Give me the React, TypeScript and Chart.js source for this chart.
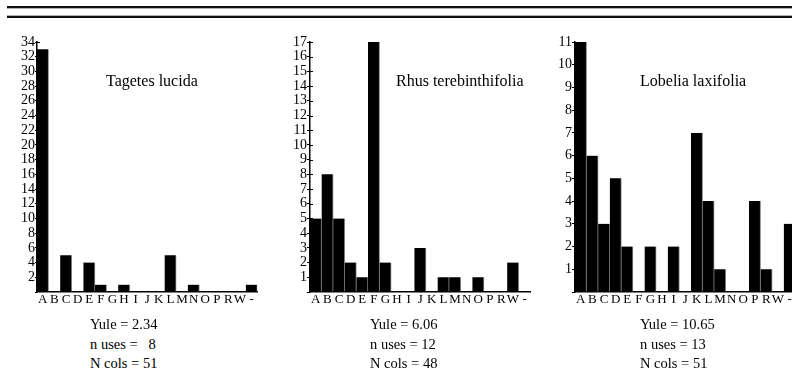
import React, { useEffect, useRef } from "react";
import { Chart, registerables } from "chart.js";

Chart.register(...registerables);

// ---- data ----
const categories = ["A", "B", "C", "D", "E", "F", "G", "H", "I", "J", "K", "L", "M", "N", "O", "P", "R", "W", "-"];
const tagetesValues = [33, 0, 5, 0, 4, 1, 0, 1, 0, 0, 0, 5, 0, 1, 0, 0, 0, 0, 1];
const rhusValues = [5, 8, 5, 2, 1, 17, 2, 0, 0, 3, 0, 1, 1, 0, 1, 0, 0, 2, 0];
const lobeliaValues = [11, 6, 3, 5, 2, 0, 2, 0, 2, 0, 7, 4, 1, 0, 0, 4, 1, 0, 3];
const speciesNames = ["Tagetes lucida", "Rhus terebinthifolia", "Lobelia laxifolia"];
const yuleLabels = ["Yule = 2.34", "Yule = 6.06", "Yule = 10.65"];
const usesLabels = ["n uses =   8", "n uses = 12", "n uses = 13"];
const colsLabels = ["N cols = 51", "N cols = 48", "N cols = 51"];
const yMaxValues = [34, 17, 11];
const yStepValues = [2, 1, 1];

const SERIF = '"Liberation Serif", "Times New Roman", Times, serif';

const CANVAS_H = 320;
const TOP_PAD = 42;
const X_AXIS_H = 28;
const Y_AXIS_W = 36;
const PLOT_W = 220.4;
const RIGHT_PAD = 12;
const CANVAS_W = Math.ceil(Y_AXIS_W + PLOT_W + RIGHT_PAD);

const innerTicksPlugin = {
  id: "innerTicks",
  afterDraw(chart: any, _args: any, opts: any) {
    const len = opts && opts.len ? opts.len : 0;
    if (!len) return;
    const ys = chart.scales.y;
    const ctx = chart.ctx;
    const x0 = chart.chartArea.left;
    ctx.save();
    ctx.strokeStyle = "#000";
    ctx.lineWidth = 1;
    ys.ticks.forEach((t: any, i: number) => {
      if (t.value === 0) return;
      if (opts.onlyMax && t.value !== ys.max) return;
      const py = Math.round(ys.getPixelForTick(i)) + 0.5;
      ctx.beginPath();
      ctx.moveTo(x0, py);
      ctx.lineTo(x0 + len, py);
      ctx.stroke();
    });
    ctx.restore();
  },
};

type PanelProps = {
  values: number[];
  max: number;
  step: number;
  left: number;
  tickOut: number;
  tickIn: number;
  onlyMax: boolean;
};

function Panel({ values, max, step, left, tickOut, tickIn, onlyMax }: PanelProps) {
  const ref = useRef<HTMLCanvasElement>(null);
  useEffect(() => {
    const chart = new Chart(ref.current as HTMLCanvasElement, {
      type: "bar",
      data: {
        labels: categories,
        datasets: [
          {
            data: values,
            backgroundColor: "#000",
            borderColor: "#8c8c8c",
            borderWidth: { left: 0, right: 1, top: 0, bottom: 0 },
            borderSkipped: false,
            barPercentage: 1,
            categoryPercentage: 1,
          } as any,
        ],
      },
      options: {
        responsive: false,
        animation: false,
        devicePixelRatio: 1,
        layout: { padding: { top: TOP_PAD, right: CANVAS_W - Y_AXIS_W - PLOT_W, left: 0, bottom: 0 } },
        plugins: {
          legend: { display: false },
          tooltip: { enabled: false },
          innerTicks: { len: tickIn, onlyMax },
        } as any,
        scales: {
          x: {
            grid: { display: false, drawTicks: false },
            border: { display: true, color: "#000", width: 1.5 },
            ticks: {
              color: "#000",
              font: { family: SERIF, size: 13 },
              autoSkip: false,
              maxRotation: 0,
              minRotation: 0,
              padding: 0,
            },
            afterFit: (s: any) => {
              s.height = X_AXIS_H;
            },
          },
          y: {
            min: 0,
            max,
            ticks: {
              stepSize: step,
              autoSkip: false,
              color: "#000",
              font: { family: SERIF, size: 14 },
              padding: 0,
              callback: (v: any) => (v === 0 ? "" : String(v)),
            },
            grid: { drawOnChartArea: false, drawTicks: true, tickLength: tickOut, color: "#000", lineWidth: 1 },
            border: { display: true, color: "#000", width: 1.5 },
            afterFit: (s: any) => {
              s.width = Y_AXIS_W;
            },
          },
        },
      },
      plugins: [innerTicksPlugin],
    });
    return () => chart.destroy();
  }, []);
  return (
    <canvas
      ref={ref}
      width={CANVAS_W}
      height={CANVAS_H}
      style={{ position: "absolute", left, top: 0, width: CANVAS_W, height: CANVAS_H }}
    />
  );
}

function Text({ x, baseline, size, children }: { x: number; baseline: number; size: number; children: string }) {
  return (
    <div
      style={{
        position: "absolute",
        left: x,
        top: baseline - 0.8375 * size,
        fontFamily: SERIF,
        fontSize: size,
        lineHeight: `${size}px`,
        whiteSpace: "pre",
        color: "#000",
      }}
    >
      {children}
    </div>
  );
}

const axisXs = [37, 310, 575];
const titleXs = [106, 396, 640];
const statXs = [90, 370, 640];
const valueSets = [tagetesValues, rhusValues, lobeliaValues];
const tickOuts = [2, 3, 3];
const tickIns = [3, 3, 0];
const onlyMaxes = [true, false, false];

export default function App() {
  return (
    <div
      style={{
        position: "fixed",
        left: 0,
        top: 0,
        width: 792,
        height: 375,
        overflow: "hidden",
        background: "#fff",
      }}
    >
      <div style={{ position: "absolute", left: 7, right: 0, top: 6, height: 1.5, background: "#111" }} />
      <div style={{ position: "absolute", left: 7, right: 0, top: 7.5, height: 1, background: "#b0b0b0" }} />
      <div style={{ position: "absolute", left: 7, right: 0, top: 15, height: 1, background: "#b0b0b0" }} />
      <div style={{ position: "absolute", left: 7, right: 0, top: 16, height: 1.5, background: "#111" }} />
      {valueSets.map((vals, i) => (
        <Panel
          key={i}
          values={vals}
          max={yMaxValues[i]}
          step={yStepValues[i]}
          left={axisXs[i] - Y_AXIS_W}
          tickOut={tickOuts[i]}
          tickIn={tickIns[i]}
          onlyMax={onlyMaxes[i]}
        />
      ))}
      {speciesNames.map((n, i) => (
        <Text key={"t" + i} x={titleXs[i]} baseline={86} size={16}>
          {n}
        </Text>
      ))}
      {yuleLabels.map((t, i) => (
        <Text key={"y" + i} x={statXs[i]} baseline={329} size={14.5}>
          {t}
        </Text>
      ))}
      {usesLabels.map((t, i) => (
        <Text key={"u" + i} x={statXs[i]} baseline={349} size={14.5}>
          {t}
        </Text>
      ))}
      {colsLabels.map((t, i) => (
        <Text key={"c" + i} x={statXs[i]} baseline={368} size={14.5}>
          {t}
        </Text>
      ))}
    </div>
  );
}
